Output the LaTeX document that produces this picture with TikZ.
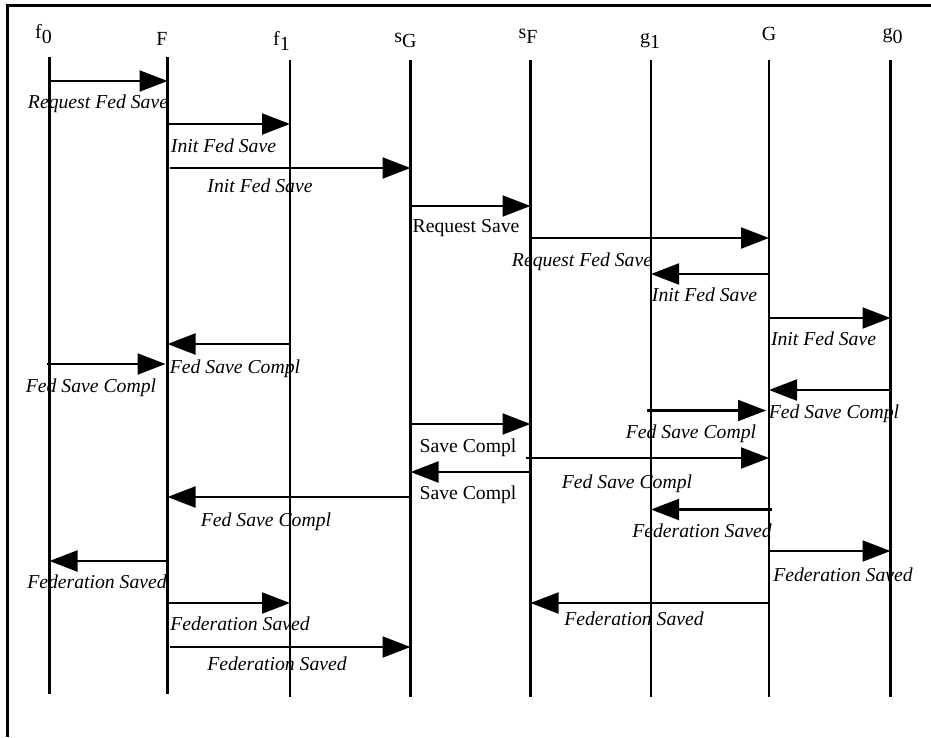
\documentclass[tikz,border=0pt]{standalone}
\usepackage{fontspec}
\setmainfont{Liberation Serif}
\usetikzlibrary{arrows.meta,calc}
\newcommand\lowch[1]{\raisebox{-5pt}{#1}}
\tikzset{
  life/.style={line width=2.1pt},
  msg/.style={line width=2.1pt,-{Triangle[length=28pt,width=21pt]}},
  frameline/.style={line width=3pt},
  hdr/.style={inner sep=0pt,anchor=base,font=\fontsize{20}{22}\selectfont},
  lab/.style={inner sep=0pt,anchor=base,font=\fontsize{19.7}{22}\selectfont\itshape},
  labr/.style={inner sep=0pt,anchor=base,font=\fontsize{19.7}{22}\selectfont},
}
\begin{document}
\begin{tikzpicture}[x=1pt,y=-1pt]
\useasboundingbox (0,0) rectangle (931,737);
% frame (top and left edges)
\coordinate (frTR) at (931,5.5);
\coordinate (frTL) at (7,5.5);
\coordinate (frBL) at (7,737);
\draw[frameline] (frTR) -- (frTL) -- (frBL);
% lifeline x positions
\coordinate (f0) at (49.5,0);
\coordinate (F)  at (167.5,0);
\coordinate (f1) at (290,0);
\coordinate (sG) at (410.5,0);
\coordinate (sF) at (530.5,0);
\coordinate (g1) at (651,0);
\coordinate (G)  at (769,0);
\coordinate (g0) at (890.5,0);
% headers
\node[hdr] (hf0) at (43.5,38) {f\lowch{0}};
\node[hdr] (hF)  at (162,45) {F};
\node[hdr] (hf1) at (281.5,45) {f\lowch{1}};
\node[hdr] (hsG) at (405.5,42) {s\lowch{G}};
\node[hdr] (hsF) at (528,38) {s\lowch{F}};
\node[hdr] (hg1) at (650,43) {g\lowch{1}};
\node[hdr] (hG)  at (769,40) {G};
\node[hdr] (hg0) at (892.5,38) {g\lowch{0}};
% lifelines
\draw[life] (f0 |- 0,57) -- (f0 |- 0,694);
\draw[life] (F |- 0,57) -- (F |- 0,694);
\foreach \n in {f1,sG,sF,g1,G,g0}{
  \draw[life] (\n |- 0,60) -- (\n |- 0,697);
}
% messages
\draw[msg] (f0 |- 0,81) -- (F |- 0,81);
\node[lab] (l1) at (98,108) {Request Fed Save};
\draw[msg] (F |- 0,124) -- (f1 |- 0,124);
\node[lab] (l2) at (223.5,152) {Init Fed Save};
\draw[msg] ($(F |- 0,168)+(2.5,0)$) -- (sG |- 0,168);
\node[lab] (l3) at (260,192) {Init Fed Save};
\draw[msg] (sG |- 0,206) -- (sF |- 0,206);
\node[labr] (l4) at (466,232) {Request Save};
\draw[msg] (sF |- 0,238) -- (G |- 0,238);
\node[lab] (l5) at (582,266) {Request Fed Save};
\draw[msg] (G |- 0,274) -- (g1 |- 0,274);
\node[lab] (l6) at (704.5,301) {Init Fed Save};
\draw[msg] (G |- 0,318) -- (g0 |- 0,318);
\node[lab] (l7) at (823.5,345) {Init Fed Save};
\draw[msg] (f1 |- 0,344) -- (F |- 0,344);
\node[lab] (l8) at (235,373) {Fed Save Compl};
\draw[msg] ($(f0 |- 0,364)+(-3,0)$) -- ($(F |- 0,364)+(-2,0)$);
\node[lab] (l9) at (91,392) {Fed Save Compl};
\draw[msg] (g0 |- 0,390) -- (G |- 0,390);
\node[lab] (l10) at (834,418.5) {Fed Save Compl};
\draw[msg] ($(g1 |- 0,410.5)+(-4,0)$) -- ($(G |- 0,410.5)+(-3,0)$);
\node[lab] (l11) at (691,438) {Fed Save Compl};
\draw[msg] (sG |- 0,424) -- (sF |- 0,424);
\node[labr] (l12) at (468,452) {Save Compl};
\draw[msg] ($(sF |- 0,458)+(-4.5,0)$) -- (G |- 0,458);
\node[lab] (l13) at (627,488) {Fed Save Compl};
\draw[msg] (sF |- 0,472) -- (sG |- 0,472);
\node[labr] (l14) at (468,499.5) {Save Compl};
\draw[msg] (sG |- 0,497) -- (F |- 0,497);
\node[lab] (l15) at (266,526) {Fed Save Compl};
\draw[msg] ($(G |- 0,509.5)+(3,0)$) -- (g1 |- 0,509.5);
\node[lab] (l16) at (702,537) {Federation Saved};
\draw[msg] (G |- 0,551) -- (g0 |- 0,551);
\node[lab] (l17) at (843,581) {Federation Saved};
\draw[msg] (F |- 0,561) -- (f0 |- 0,561);
\node[lab] (l18) at (97,588) {Federation Saved};
\draw[msg] ($(F |- 0,603)+(1,0)$) -- (f1 |- 0,603);
\node[lab] (l20) at (240,630) {Federation Saved};
\draw[msg] (G |- 0,603) -- (sF |- 0,603);
\node[lab] (l21) at (634,625) {Federation Saved};
\draw[msg] ($(F |- 0,647)+(2.5,0)$) -- (sG |- 0,647);
\node[lab] (l22) at (277,670) {Federation Saved};
\end{tikzpicture}
\end{document}
